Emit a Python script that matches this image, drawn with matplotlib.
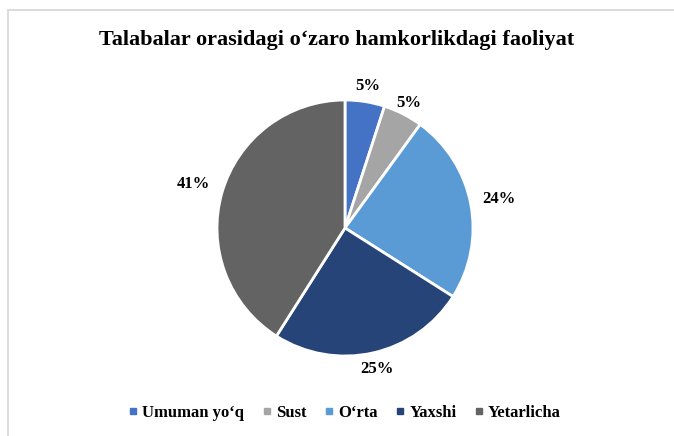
import numpy as np
import matplotlib
matplotlib.use("Agg")
import matplotlib.pyplot as plt
from matplotlib.patches import Rectangle
from matplotlib.lines import Line2D

plt.rcParams['font.family'] = ['Liberation Serif', 'DejaVu Serif']

# ma'lumotlar
categories = ["Umuman yo‘q", "Sust", "O‘rta", "Yaxshi", "Yetarlicha"]
values = [5, 5, 24, 25, 41]
pct_labels = ["5%", "5%", "24%", "25%", "41%"]
colors = ["#4472C4", "#A5A5A5", "#5B9BD5", "#264478", "#636363"]
label_dist = [1.12, 1.10, 1.22, 1.13, 1.23]  # yorliq masofasi

W, H = 674, 436
fig = plt.figure(figsize=(W / 100, H / 100), dpi=100)

# ramka (chap va yuqori chiziq ko'rinadi)
fig.patches.append(Rectangle((8 / W, -0.1), 1.2, (H - 10) / H + 0.1,
                             transform=fig.transFigure, fill=False,
                             edgecolor="#D9D9D9", linewidth=1.3))

cx, cy, r = 345, 228, 128
ax = fig.add_axes([(cx - 1.5 * r) / W, (H - cy - 1.5 * r) / H, 3 * r / W, 3 * r / H])
wedges, _ = ax.pie(values, colors=colors, startangle=90, counterclock=False,
                   wedgeprops=dict(edgecolor="white", linewidth=2))
ax.set_xlim(-1.5, 1.5)
ax.set_ylim(-1.5, 1.5)
ax.set_aspect("equal")
ax.axis("off")

total = sum(values)
cum = np.cumsum([0] + values)
for i, lab in enumerate(pct_labels):
    mid = 90 - 360 * (cum[i] + values[i] / 2) / total
    a = np.deg2rad(mid)
    ax.text(label_dist[i] * np.cos(a), label_dist[i] * np.sin(a), lab,
            ha="center", va="center", fontsize=12, fontweight="bold")

fig.text(0.5, 1 - 40 / H, "Talabalar orasidagi o‘zaro hamkorlikdagi faoliyat",
         ha="center", va="center", fontsize=16, fontweight="bold")

handles = [Line2D([], [], marker="s", linestyle="", markersize=4.5,
                  markerfacecolor=c, markeredgecolor=c) for c in colors]
fig.legend(handles, categories, loc="center", bbox_to_anchor=(0.51, 1 - 413 / H),
           ncol=5, frameon=False, prop=dict(size=12, weight="bold"),
           handletextpad=0.15, columnspacing=0.95, handlelength=0.8)

fig.savefig("out.png", dpi=100)
